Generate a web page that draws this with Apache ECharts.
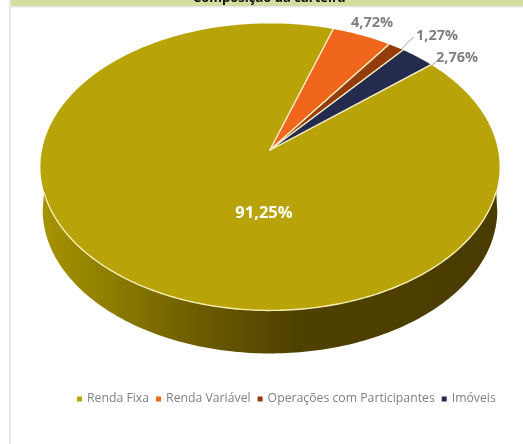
<!DOCTYPE html>
<html><head><meta charset="utf-8">
<style>html,body{margin:0;padding:0;background:#fff;overflow:hidden}#c{width:523px;height:444px}</style>
<script src="https://cdn.jsdelivr.net/npm/echarts@6/dist/echarts.min.js"></script>
</head><body><div id="c"></div>
<script>
const titleText = 'Composição da carteira';
const categories = ['Renda Fixa', 'Renda Variável', 'Operações com Participantes', 'Imóveis'];
const values = [91.25, 4.72, 1.27, 2.76];
const colors = ['#b8a408', '#ef661c', '#953c0c', '#252b4e'];

// pie geometry (perspective projection of a tilted disc)
const apex = { x: 270, y: 150 }, A = 228, B = 141.5, K = 0.118, DEPTH = 43, START_DEG = 49.5;
const project = (deg, dy, s) => {
  const t = deg * Math.PI / 180, u = Math.sin(t), v = Math.cos(t), w = 1 + K * v;
  return [apex.x + s * A * u / w, apex.y - B * v / w + dy];
};
const total = values.reduce((a, b) => a + b, 0);
const starts = values.map((_, i) => START_DEG + values.slice(0, i).reduce((a, b) => a + b, 0) / total * 360);

const labelStyles = [
  { fill: '#ffffff', at: [264, 213], size: 16.5 },
  { fill: '#7f7f7f', at: [372, 23], size: 14.5 },
  { fill: '#7f7f7f', at: [437, 36], size: 14.5, leader: [[402, 49], [408, 42], [414, 37]] },
  { fill: '#7f7f7f', at: [457, 58], size: 14.5, leader: [[431, 66], [436, 62]] }
];
const fmt = v => v.toFixed(2).replace('.', ',') + '%';

function renderSlice(i) {
  return function (params, api) {
    const v = api.value(0), a0 = starts[i], sweep = v / total * 360;
    const n = Math.max(4, Math.ceil(sweep));
    const arc = [];
    for (let k = 0; k <= n; k++) arc.push(a0 + sweep * k / n);
    const children = [];
    const front = arc.filter(d => project(d, 0, 1)[1] >= 167);
    const rim = arc.filter(d => project(d, 0, 1)[1] >= 190);
    if (front.length > 1) {
      const topPts = rim.map(d => project(d, 0, 1));
      const botPts = front.slice().reverse().map(d => project(d, DEPTH, 0.99));
      children.push({
        type: 'polygon', shape: { points: topPts.concat(botPts) },
        style: {
          fill: new echarts.graphic.LinearGradient(0, 0, 1, 0, [
            { offset: 0, color: '#a69300' }, { offset: 0.15, color: '#8d7d00' },
            { offset: 0.35, color: '#6b5b00' }, { offset: 0.55, color: '#4f4100' },
            { offset: 1, color: '#4a3c00' }
          ])
        }
      });
    }
    const ends = [project(arc[0], 0, 1), [apex.x, apex.y], project(arc[arc.length - 1], 0, 1)];
    const face = [[apex.x, apex.y]].concat(arc.map(d => project(d, 0, 1)));
    children.push({ type: 'polygon', shape: { points: face }, style: { fill: colors[i] } });
    children.push({
      type: 'polyline', shape: { points: ends },
      style: { fill: null, stroke: '#f6efc4', lineWidth: 1.3, lineJoin: 'round' }
    });
    if (rim.length > 1) children.push({
      type: 'polyline', shape: { points: rim.map(d => project(d, 0, 1)) },
      style: { fill: null, stroke: '#f6efb4', lineWidth: 1.4 }
    });
    const ls = labelStyles[i];
    if (ls.leader) children.push({
      type: 'polyline', shape: { points: ls.leader },
      style: { fill: null, stroke: '#a6a6a6', lineWidth: 1 }
    });
    children.push({
      type: 'text', x: ls.at[0], y: ls.at[1], z2: 50,
      style: { text: fmt(v), fill: ls.fill, align: 'center', verticalAlign: 'middle',
        font: 'bold ' + ls.size + 'px "Open Sans", "Noto Sans", sans-serif' }
    });
    return { type: 'group', children };
  };
}

const chart = echarts.init(document.getElementById('c'), null, { renderer: 'canvas' });
chart.setOption({
  animation: false,
  backgroundColor: '#ffffff',
  title: { text: titleText, left: 193, top: -8, padding: 0,
    textStyle: { color: '#111', fontSize: 13, fontWeight: 'bold', fontFamily: '"Open Sans", sans-serif' } },
  legend: {
    data: categories, left: 77, top: 393, padding: 0, icon: 'rect',
    itemWidth: 5, itemHeight: 5, itemGap: 7,
    textStyle: { color: '#7f7f7f', fontSize: 12.25, fontFamily: '"Open Sans", "Noto Sans", sans-serif' }
  },
  graphic: [
    { type: 'rect', silent: true, z: -1, shape: { x: 10, y: 0, width: 513, height: 6 }, style: { fill: '#d3df9e' } },
    { type: 'rect', silent: true, z: -1, shape: { x: 10, y: 6, width: 513, height: 1.5 }, style: { fill: '#e6e6e6' } },
    { type: 'rect', silent: true, z: -1, shape: { x: 9, y: 0, width: 2, height: 444 }, style: { fill: '#e6e6e6' } }
  ],
  series: categories.map((name, i) => ({
    type: 'custom', name, coordinateSystem: 'none', silent: true,
    itemStyle: { color: colors[i] },
    data: [[values[i]]],
    renderItem: renderSlice(i)
  }))
});
</script></body></html>
